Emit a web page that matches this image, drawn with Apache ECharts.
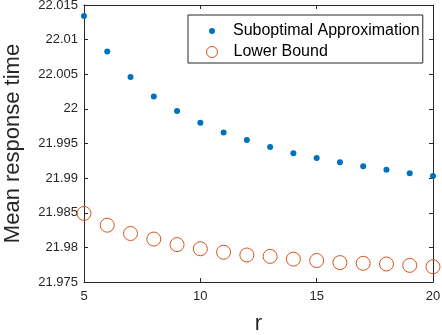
<!DOCTYPE html>
<html>
<head>
<meta charset="utf-8">
<script src="https://cdn.jsdelivr.net/npm/echarts@6/dist/echarts.min.js"></script>
<style>
  html, body { margin: 0; padding: 0; background: #fff; }
  #chart { width: 442px; height: 335px; }
</style>
</head>
<body>
<div id="chart"></div>
<script>
const rValues = [5, 6, 7, 8, 9, 10, 11, 12, 13, 14, 15, 16, 17, 18, 19, 20]
const suboptimal = [22.0134, 22.0083, 22.0046, 22.0018, 21.9997, 21.9980, 21.9966, 21.9955,
  21.9945, 21.9936, 21.9929, 21.9923, 21.9917, 21.9912, 21.9907, 21.9903]
const lowerBound = [21.9849, 21.9832, 21.9820, 21.9812, 21.9804, 21.9798, 21.9793, 21.9789,
  21.9787, 21.9783, 21.9781, 21.9778, 21.9777, 21.9776, 21.9774, 21.9772]

const chart = echarts.init(document.getElementById('chart'))

const font = 'Liberation Sans, Arial, sans-serif'
const ink = '#262626'
const blue = '#0072BD'
const orange = '#D95319'

const axisCommon = {
  axisLine: { show: true, onZero: false, lineStyle: { color: ink, width: 1 } },
  axisTick: { show: true, inside: true, length: 4, lineStyle: { color: ink } },
  splitLine: { show: false }
}

const legendText = { fontFamily: font, fontSize: 16, color: '#000', lineHeight: 16 }

const option = {
  backgroundColor: '#fff',
  animation: false,
  grid: { left: 84, right: 9, top: 5, bottom: 53, containLabel: false, outerBoundsMode: 'none' },
  legend: [
    {
      // first entry, its box also frames the second entry
      orient: 'vertical',
      left: 188,
      top: 15,
      padding: [8, 3, 24, 21],
      itemWidth: 6,
      itemHeight: 6,
      borderColor: ink,
      borderWidth: 1,
      backgroundColor: '#fff',
      textStyle: Object.assign({}, legendText, { padding: [0, 0, 0, 13] }),
      data: [{ name: 'Suboptimal Approximation', icon: 'circle' }]
    },
    {
      orient: 'vertical',
      left: 206,
      top: 44,
      padding: 0,
      z: 10,
      itemWidth: 11,
      itemHeight: 11,
      textStyle: Object.assign({}, legendText, { padding: [0, 0, 0, 11] }),
      data: [{
        name: 'Lower Bound', icon: 'circle',
        itemStyle: { color: 'rgba(0,0,0,0)', borderColor: orange, borderWidth: 1 }
      }]
    }
  ],
  xAxis: [
    Object.assign({}, axisCommon, {
      type: 'value', min: 5, max: 20, interval: 5,
      name: 'r', nameLocation: 'middle', nameGap: 31,
      nameTextStyle: { fontFamily: font, fontSize: 22, color: ink },
      axisLabel: { fontFamily: font, fontSize: 13, color: ink, margin: 8 }
    }),
    Object.assign({}, axisCommon, {
      type: 'value', min: 5, max: 20, interval: 5, position: 'top',
      axisLabel: { show: false }
    })
  ],
  yAxis: [
    Object.assign({}, axisCommon, {
      type: 'value', min: 21.975, max: 22.015, interval: 0.005,
      name: 'Mean response time', nameLocation: 'middle', nameGap: 60, nameMoveOverlap: false,
      nameTextStyle: { fontFamily: font, fontSize: 22, color: ink },
      axisLabel: { fontFamily: font, fontSize: 13, color: ink, margin: 6,
        formatter: v => String(+v.toFixed(3)) }
    }),
    Object.assign({}, axisCommon, {
      type: 'value', min: 21.975, max: 22.015, interval: 0.005, position: 'right',
      axisLabel: { show: false }
    })
  ],
  series: [
    {
      name: 'Suboptimal Approximation',
      type: 'scatter',
      symbol: 'circle',
      symbolSize: 6,
      data: rValues.map((r, i) => [r, suboptimal[i]]),
      itemStyle: { color: blue, opacity: 1 }
    },
    {
      name: 'Lower Bound',
      type: 'scatter',
      symbol: 'circle',
      symbolSize: 14,
      data: rValues.map((r, i) => [r, lowerBound[i]]),
      itemStyle: { color: 'rgba(0,0,0,0)', borderColor: orange, borderWidth: 1, opacity: 1 }
    }
  ]
}

chart.setOption(option)
</script>
</body>
</html>
